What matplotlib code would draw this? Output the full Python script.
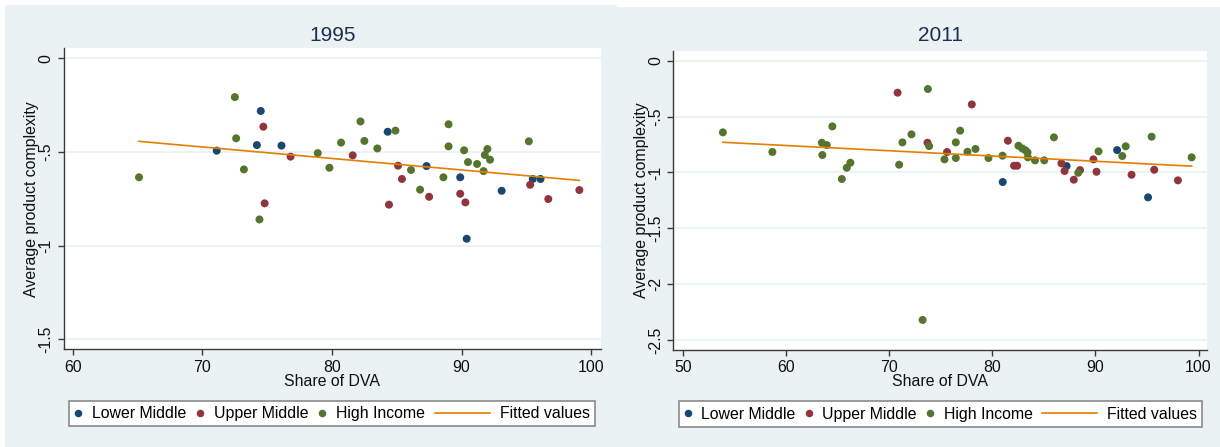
import numpy as np
import matplotlib
matplotlib.use("Agg")
import matplotlib.pyplot as plt
from matplotlib.lines import Line2D
from matplotlib.patches import Rectangle
from matplotlib.legend_handler import HandlerLine2D

plt.rcParams['font.family'] = ['Liberation Sans', 'DejaVu Sans']

# 1995
lm95_x = [71.1, 74.2, 74.5, 76.1, 84.3, 87.3, 89.9, 90.4, 93.1, 95.5, 96.1]
lm95_y = [-0.493, -0.463, -0.281, -0.466, -0.392, -0.575, -0.635, -0.963, -0.707, -0.644, -0.644]
um95_x = [74.7, 74.8, 76.8, 81.6, 84.4, 85.1, 85.4, 87.5, 89.9, 90.3, 95.3, 96.7, 99.1]
um95_y = [-0.365, -0.774, -0.525, -0.518, -0.781, -0.573, -0.644, -0.739, -0.723, -0.769, -0.675, -0.751, -0.703]
hi95_x = [65.1, 72.5, 72.6, 73.2, 74.4, 78.9, 79.8, 80.7, 82.2, 82.5, 83.5, 84.9, 86.1, 86.8,
          88.6, 89.0, 89.0, 90.2, 90.5, 91.2, 91.7, 91.8, 92.0, 92.2, 95.2]
hi95_y = [-0.635, -0.207, -0.427, -0.593, -0.86, -0.506, -0.584, -0.45, -0.337, -0.441, -0.481, -0.386,
          -0.596, -0.701, -0.635, -0.352, -0.47, -0.491, -0.554, -0.564, -0.602, -0.516, -0.484, -0.541, -0.443]

# 2011
lm11_x = [81.0, 87.2, 92.1, 95.1]
lm11_y = [-1.086, -0.943, -0.80, -1.223]
um11_x = [70.8, 73.7, 75.6, 78.0, 81.5, 82.1, 82.4, 86.7, 87.0, 87.9, 88.5, 89.8, 90.1, 93.5, 95.7, 98.0]
um11_y = [-0.286, -0.734, -0.817, -0.391, -0.716, -0.94, -0.94, -0.919, -0.987, -1.065, -0.979,
          -0.883, -0.994, -1.021, -0.976, -1.071]
hi11_x = [53.85, 58.65, 63.45, 63.93, 63.5, 64.47, 65.39, 65.87, 66.22, 70.95, 71.27, 72.15, 73.23,
          73.74, 73.86, 75.35, 76.45, 76.45, 76.87, 77.58, 78.36, 79.62, 80.98, 82.53, 82.89, 83.18,
          83.41, 83.44, 84.13, 85.03, 85.97, 88.33, 90.3, 92.6, 92.93, 95.45, 99.33]
hi11_y = [-0.641, -0.817, -0.734, -0.755, -0.844, -0.588, -1.059, -0.958, -0.913, -0.931, -0.731,
          -0.659, -2.321, -0.253, -0.764, -0.883, -0.731, -0.871, -0.626, -0.815, -0.79, -0.871,
          -0.85, -0.761, -0.785, -0.80, -0.821, -0.865, -0.892, -0.892, -0.686, -1.003, -0.811,
          -0.853, -0.766, -0.68, -0.865]

groups = ["Lower Middle", "Upper Middle", "High Income"]
colors = ["#1a476f", "#90353b", "#55752f"]
fit_color = "#e37e00"
bg = "#eaf2f3"

W, H = 1220, 447
fs = 11.4


class LongLine(HandlerLine2D):
    # wider handle box only for the fitted line entry
    def legend_artist(self, legend, orig_handle, fontsize, handlebox):
        handlebox.width = 3.5 * fontsize
        return super().legend_artist(legend, orig_handle, fontsize, handlebox)


def fx(px):
    return px / W


def fy(py):
    return 1 - py / H


fig = plt.figure(figsize=(W / 100, H / 100), dpi=100, facecolor="white")
fig.add_artist(Rectangle((fx(5), 0), fx(617) - fx(5), fy(5), transform=fig.transFigure,
                         facecolor=bg, edgecolor="none", zorder=-2))
fig.add_artist(Rectangle((fx(601), 0), 1 - fx(601), fy(7), transform=fig.transFigure,
                         facecolor=bg, edgecolor="none", zorder=-2))

panels = [
    dict(title="1995", box=(63.5, 601, 48, 349.3), xlim=(59.27, 100.77), ylim=(-1.553, 0.055),
         xticks=[60, 70, 80, 90, 100], yticks=[0, -0.5, -1, -1.5],
         data=[(lm95_x, lm95_y), (um95_x, um95_y), (hi95_x, hi95_y)], leg=(69, 595, 399.5, 427.7)),
    dict(title="2011", box=(673.4, 1207.3, 50.7, 350), xlim=(49.05, 100.85), ylim=(-2.59, 0.09),
         xticks=[50, 60, 70, 80, 90, 100], yticks=[0, -0.5, -1, -1.5, -2, -2.5],
         data=[(lm11_x, lm11_y), (um11_x, um11_y), (hi11_x, hi11_y)], leg=(678.5, 1202, 400, 428.3)),
]


def ylab(v):
    return ("%g" % v).replace("0.", ".")


for p in panels:
    l, r, t, b = p["box"]
    ax = fig.add_axes([fx(l), fy(b), fx(r) - fx(l), fy(t) - fy(b)])
    ax.set_facecolor("white")
    ax.set_axisbelow(True)
    for (xs, ys), c in zip(p["data"], colors):
        ax.scatter(xs, ys, s=33, color=c, edgecolors="none", zorder=2)
    allx = np.concatenate([d[0] for d in p["data"]])
    ally = np.concatenate([d[1] for d in p["data"]])
    slope, icpt = np.polyfit(allx, ally, 1)
    xl = np.array([allx.min(), allx.max()])
    ax.plot(xl, icpt + slope * xl, color=fit_color, lw=1.2, zorder=3)

    ax.set_xlim(*p["xlim"])
    ax.set_ylim(*p["ylim"])
    ax.set_xticks(p["xticks"])
    ax.set_yticks(p["yticks"])
    ax.set_yticklabels([ylab(v) for v in p["yticks"]], rotation=90, va="center")
    ax.grid(axis="y", color=bg, lw=1.3)
    for s in ["top", "right"]:
        ax.spines[s].set_visible(False)
    for s in ["left", "bottom"]:
        ax.spines[s].set_color("#3a3a3a")
        ax.spines[s].set_linewidth(1.0)
    ax.tick_params(axis="both", length=4, width=1, color="#3a3a3a", labelsize=fs, labelcolor="#111111")
    ax.tick_params(axis="x", pad=3.5)
    ax.tick_params(axis="y", pad=3.5)

    ax.set_title(p["title"], fontsize=15, color="#1e2d50", pad=0, y=1 + (t - 41) / (b - t))
    ax.set_xlabel("Share of DVA", fontsize=fs, color="#111111")
    ax.xaxis.set_label_coords(0.5, -(374.5 - b) / (b - t))
    ax.set_ylabel("Average product complexity", fontsize=fs, color="#111111")
    ax.yaxis.set_label_coords(-24.5 / (r - l), 0.5)

    handles = [Line2D([], [], marker="o", ls="none", color=c, markersize=4.4) for c in colors]
    fit_h = Line2D([], [], color=fit_color, lw=1.2)
    handles.append(fit_h)
    ll, lr, lt, lb = p["leg"]
    ax.legend(handles, groups + ["Fitted values"], loc="center", ncol=4, mode="expand",
              bbox_to_anchor=(fx(ll), fy(lb), fx(lr) - fx(ll), fy(lt) - fy(lb)),
              bbox_transform=fig.transFigure, borderaxespad=0, borderpad=0.33,
              handlelength=0.5, handletextpad=0.6, fontsize=fs, frameon=True, fancybox=False,
              edgecolor="#8a8a8a", framealpha=1, handler_map={fit_h: LongLine()})
    ax.get_legend().get_frame().set_linewidth(1.2)

fig.savefig("out.png", dpi=100, facecolor="white")
